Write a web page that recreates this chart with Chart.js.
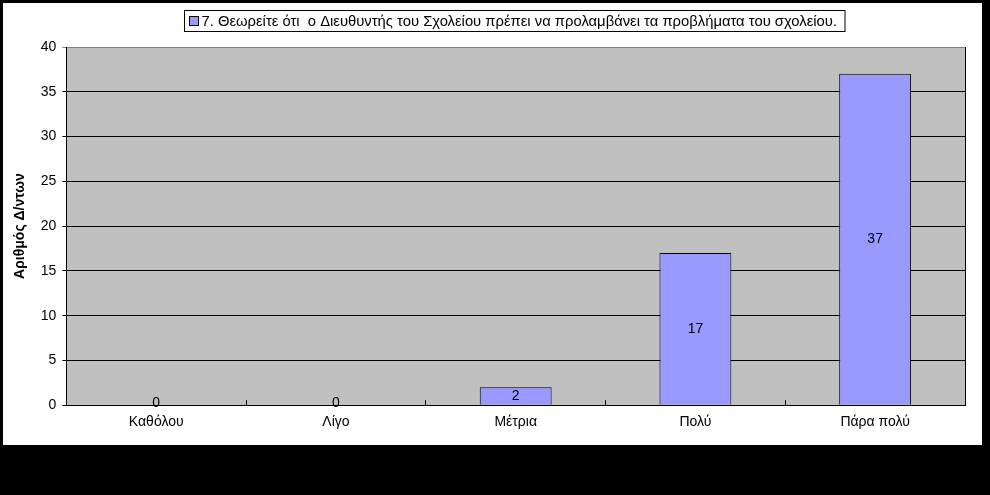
<!DOCTYPE html>
<html>
<head>
<meta charset="utf-8">
<script src="https://cdn.jsdelivr.net/npm/chart.js@4.4.0/dist/chart.umd.min.js"></script>
<style>
  body { margin: 0; background: #000; width: 990px; height: 495px; overflow: hidden; }
  #wrap { position: absolute; left: 3px; top: 3px; width: 979px; height: 442px; background: #fff; }
</style>
</head>
<body>
<div id="wrap"><canvas id="bar"></canvas></div>
<script>
const categories = ['Καθόλου', 'Λίγο', 'Μέτρια', 'Πολύ', 'Πάρα πολύ'];
const answers = [0, 0, 2, 17, 37];
const seriesLabel = '7. Θεωρείτε ότι  ο Διευθυντής του Σχολείου πρέπει να προλαμβάνει τα προβλήματα του σχολείου.';
const yTitle = 'Αριθμός Δ/ντων';

const FONT = 'Arial, "Liberation Sans", sans-serif';

// gray plot background, value labels and the boxed legend
const excelLook = {
    id: 'excelLook',
    beforeDraw(chart) {
        const {ctx, chartArea: a} = chart;
        ctx.save();
        ctx.fillStyle = '#c0c0c0';
        ctx.fillRect(a.left, a.top, a.right - a.left, a.bottom - a.top);
        ctx.restore();
    },
    afterDraw(chart) {
        const {ctx, chartArea: a} = chart;
        ctx.save();
        // right border of plot
        ctx.strokeStyle = '#000';
        ctx.lineWidth = 1;
        ctx.beginPath();
        ctx.moveTo(Math.round(a.right) + 0.5, a.top);
        ctx.lineTo(Math.round(a.right) + 0.5, a.bottom);
        ctx.stroke();

        // value labels
        ctx.font = '14px ' + FONT;
        ctx.fillStyle = '#000';
        ctx.textAlign = 'center';
        ctx.textBaseline = 'middle';
        chart.getDatasetMeta(0).data.forEach((bar, i) => {
            const y = Math.min((bar.y + bar.base) / 2, bar.base - 2);
            ctx.fillText(String(answers[i]), bar.x, y);
        });

        // legend box
        ctx.font = '14.8px ' + FONT;
        const tw = ctx.measureText(seriesLabel).width;
        const bw = 5 + 9 + 3 + tw + 8;
        const bh = 21;
        const cx = (a.left + a.right) / 2 - 1;
        const bx = Math.round(cx - bw / 2) + 0.5;
        const by = 7.5;
        ctx.fillStyle = '#fff';
        ctx.fillRect(bx, by, bw, bh);
        ctx.strokeStyle = '#000';
        ctx.strokeRect(bx, by, bw, bh);
        ctx.fillStyle = '#9999ff';
        ctx.fillRect(bx + 5, by + 6, 9, 9);
        ctx.strokeRect(bx + 5, by + 6, 9, 9);
        ctx.fillStyle = '#000';
        ctx.textAlign = 'left';
        ctx.fillText(seriesLabel, bx + 17, by + bh / 2 + 1);
        ctx.restore();
    }
};

const ctx = document.getElementById('bar').getContext('2d');
const bar = new Chart(ctx, {
    type: 'bar',
    data: {
        labels: categories,
        datasets: [{
            label: seriesLabel,
            data: answers,
            backgroundColor: '#9999ff',
            borderColor: '#000',
            borderWidth: 1,
            categoryPercentage: 1,
            barPercentage: 0.4
        }]
    },
    options: {
        responsive: true,
        maintainAspectRatio: false,
        animation: false,
        layout: { padding: { left: 3, top: 44, right: 17, bottom: 0 } },
        plugins: {
            legend: { display: false },
            tooltip: { enabled: false }
        },
        scales: {
            x: {
                grid: {
                    offset: true,
                    drawOnChartArea: false,
                    color: '#000',
                    tickLength: -5
                },
                border: { color: '#000', width: 1 },
                ticks: { color: '#000', font: { family: FONT, size: 14 }, padding: 14 }
            },
            y: {
                min: 0,
                max: 40,
                ticks: { stepSize: 5, color: '#000', font: { family: FONT, size: 14 }, padding: 6 },
                grid: {
                    color: c => (c.tick && c.tick.value === 40 ? '#808080' : '#000'),
                    tickLength: 4
                },
                border: { color: '#000', width: 1 },
                title: {
                    display: true,
                    text: yTitle,
                    color: '#000',
                    font: { family: FONT, size: 14, weight: 'bold' },
                    padding: { top: 6, bottom: 6 }
                }
            }
        }
    },
    plugins: [excelLook]
});
</script>
</body>
</html>
